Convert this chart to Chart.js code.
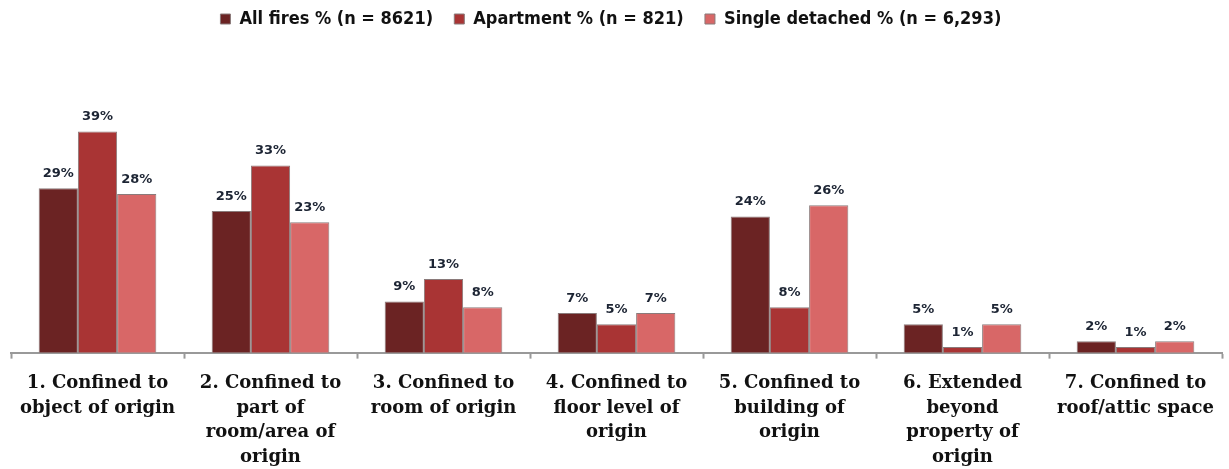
<!DOCTYPE html>
<html lang="en">
<head>
  <meta charset="UTF-8" />
  <title>Fire spread by dwelling type</title>
  <script src="https://cdn.jsdelivr.net/npm/chart.js"></script>
  <style>
    html, body { margin: 0; padding: 0; background: #fff; }
    #wrap { width: 1229px; height: 469px; position: relative; }
  </style>
</head>
<body>
  <div id="wrap"><canvas id="fireChart"></canvas></div>

  <script>
    const categories = [
      ['1. Confined to', 'object of origin'],
      ['2. Confined to', 'part of', 'room/area of', 'origin'],
      ['3. Confined to', 'room of origin'],
      ['4. Confined to', 'floor level of', 'origin'],
      ['5. Confined to', 'building of', 'origin'],
      ['6. Extended', 'beyond', 'property of', 'origin'],
      ['7. Confined to', 'roof/attic space']
    ];
    const seriesNames = [
      'All fires % (n = 8621)',
      'Apartment % (n = 821)',
      'Single detached % (n = 6,293)'
    ];
    const allFires = [29, 25, 9, 7, 24, 5, 2];
    const apartment = [39, 33, 13, 5, 8, 1, 1];
    const singleDetached = [28, 23, 8, 7, 26, 5, 2];

    const colors = ['#6b2323', '#a93434', '#d86767'];

    // little plugin that writes the % above every bar
    const valueLabels = {
      id: 'valueLabels',
      afterDatasetsDraw(chart) {
        const ctx = chart.ctx;
        ctx.save();
        ctx.font = 'bold 13px "DejaVu Sans"';
        ctx.fillStyle = '#1c2433';
        ctx.textAlign = 'center';
        ctx.textBaseline = 'bottom';
        chart.data.datasets.forEach((ds, i) => {
          chart.getDatasetMeta(i).data.forEach((bar, j) => {
            ctx.fillText(ds.data[j] + '%', bar.x, bar.y - 8);
          });
        });
        ctx.restore();
      }
    };

    const ctx = document.getElementById('fireChart').getContext('2d');
    new Chart(ctx, {
      type: 'bar',
      data: {
        labels: categories,
        datasets: [allFires, apartment, singleDetached].map((vals, i) => ({
          label: seriesNames[i],
          data: vals,
          backgroundColor: colors[i],
          borderColor: '#8a7a7a',
          borderWidth: 1,
          categoryPercentage: 0.68,
          barPercentage: 1.0
        }))
      },
      options: {
        responsive: true,
        maintainAspectRatio: false,
        animation: false,
        layout: { padding: { left: 11, right: 7, top: 0, bottom: -13 } },
        plugins: {
          tooltip: { enabled: false },
          legend: {
            position: 'top',
            labels: {
              color: '#111',
              font: { family: 'DejaVu Sans Condensed', size: 18, weight: 'bold' },
              boxWidth: 10,
              boxHeight: 10,
              padding: 10,
              generateLabels(chart) {
                const items = Chart.defaults.plugins.legend.labels.generateLabels(chart);
                items.forEach(it => { it.text = it.text + '  '; });
                return items;
              }
            }
          }
        },
        scales: {
          x: {
            border: { color: '#999', width: 2 },
            grid: {
              display: true,
              drawOnChartArea: false,
              drawTicks: true,
              tickLength: 6,
              tickWidth: 2,
              color: '#999'
            },
            ticks: {
              color: '#111',
              font: { family: 'DejaVu Serif', size: 18, weight: 'bold', lineHeight: 1.38 },
              maxRotation: 0,
              autoSkip: false,
              padding: 12
            }
          },
          y: {
            display: false,
            min: 0,
            max: 55.5
          }
        }
      },
      plugins: [valueLabels]
    });
  </script>
</body>
</html>
